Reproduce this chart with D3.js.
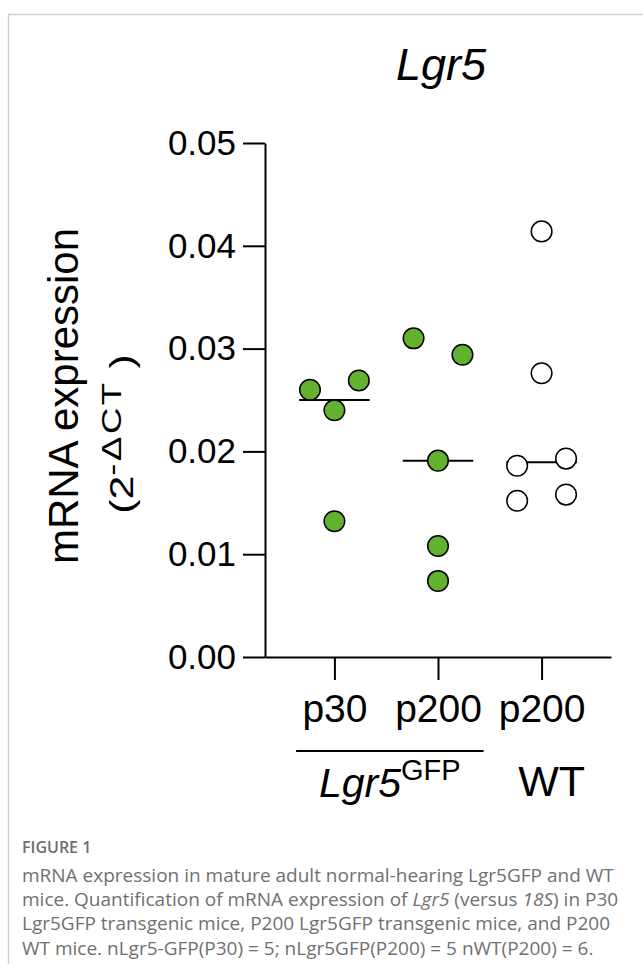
<!DOCTYPE html>
<html>
<head>
<meta charset="utf-8">
<script src="https://cdn.jsdelivr.net/npm/d3@7/dist/d3.min.js"></script>
<style>
  body { margin: 0; background: #fff; }
  svg { display: block; font-family: "Liberation Sans", Arial, sans-serif; }
</style>
</head>
<body>
<div id="chart"></div>
<script>
// group keys and the labels printed under the ticks
var groups = ["p30", "p200", "p200WT"];
var groupLabels = ["p30", "p200", "p200"];

// values (2^-dCT), one array per group
var p30Values = [0.0260, 0.0240, 0.0269, 0.0132];
var p200Values = [0.0310, 0.0294, 0.0191, 0.0108, 0.0074];
var wtValues = [0.0414, 0.0276, 0.0186, 0.0193, 0.0152, 0.0158];

// column slot of each dot (-1 left, 0 centre, 1 right) as the figure scatters them
var p30Slots = [-1, 0, 1, 0];
var p200Slots = [-1, 1, 0, 0, 0];
var wtSlots = [0, 0, -1, 1, -1, 1];

var yTicks = [0, 0.01, 0.02, 0.03, 0.04, 0.05];

var captionLines = [
    [{t: "mRNA expression in mature adult normal-hearing Lgr5GFP and WT"}],
    [{t: "mice. Quantification of mRNA expression of "}, {t: "Lgr5", i: true}, {t: " (versus "}, {t: "18S", i: true}, {t: ") in P30"}],
    [{t: "Lgr5GFP transgenic mice, P200 Lgr5GFP transgenic mice, and P200"}],
    [{t: "WT mice. nLgr5-GFP(P30) = 5; nLgr5GFP(P200) = 5 nWT(P200) = 6."}]
];

var width = 643, height = 974;
var margin = {top: 143, right: 32, bottom: 317, left: 265};

var svg = d3.select("#chart").append("svg")
    .attr("width", width)
    .attr("height", height);

svg.append("rect").attr("width", width).attr("height", height).attr("fill", "#fff");

// figure frame (thin grey top and left rule)
svg.append("path")
    .attr("d", "M8.5,964V14.5H643")
    .attr("fill", "none")
    .attr("stroke", "#cfcfcf")
    .attr("stroke-width", 1.5);

var x = d3.scalePoint()
    .domain(groups)
    .range([margin.left, width - margin.right])
    .padding(0.67);

var y = d3.scaleLinear()
    .domain([0, 0.05])
    .range([height - margin.bottom, margin.top]);

var slot = d3.scaleLinear()
    .domain([-1, 1])
    .range([-x.step() * 0.236, x.step() * 0.236]);

var series = [
    {key: "p30", values: p30Values, slots: p30Slots, fill: "#62b12f"},
    {key: "p200", values: p200Values, slots: p200Slots, fill: "#62b12f"},
    {key: "p200WT", values: wtValues, slots: wtSlots, fill: "#ffffff"}
];

// axes
var yAxis = svg.append("g")
    .attr("transform", "translate(" + margin.left + ",0)")
    .call(d3.axisLeft(y).tickValues(yTicks).tickFormat(d3.format(".2f")).tickSize(22).tickSizeOuter(0).tickPadding(7));

var xAxis = svg.append("g")
    .attr("transform", "translate(0," + y(0) + ")")
    .call(d3.axisBottom(x).tickSize(23).tickSizeOuter(0).tickFormat(function (d, i) { return groupLabels[i]; }).tickPadding(14));

svg.selectAll(".domain, .tick line").attr("stroke", "#000").attr("stroke-width", 2);
yAxis.selectAll("text").attr("font-size", 35).attr("fill", "#000").attr("font-family", "Liberation Sans, Arial, sans-serif");
xAxis.selectAll("text").attr("font-size", 39).attr("fill", "#000").attr("font-family", "Liberation Sans, Arial, sans-serif");

// median bars, drawn under the dots
svg.append("g").selectAll("line")
    .data(series)
    .join("line")
    .attr("x1", function (d) { return x(d.key) - x.step() * 0.34; })
    .attr("x2", function (d) { return x(d.key) + x.step() * 0.34; })
    .attr("y1", function (d) { return y(d3.median(d.values)); })
    .attr("y2", function (d) { return y(d3.median(d.values)); })
    .attr("stroke", "#000")
    .attr("stroke-width", 2);

// dots
series.forEach(function (s) {
    svg.append("g").selectAll("circle")
        .data(s.values)
        .join("circle")
        .attr("cx", function (d, i) { return x(s.key) + slot(s.slots[i]); })
        .attr("cy", function (d) { return y(d); })
        .attr("r", 10.3)
        .attr("fill", s.fill)
        .attr("stroke", "#000")
        .attr("stroke-width", 1.5);
});

// title
svg.append("text")
    .attr("x", 441)
    .attr("y", 80)
    .attr("text-anchor", "middle")
    .attr("font-size", 45)
    .attr("font-style", "italic")
    .text("Lgr5");

// y label
var midY = (margin.top + y(0)) / 2;
svg.append("text")
    .attr("transform", "translate(78," + (midY - 4) + ") rotate(-90)")
    .attr("text-anchor", "middle")
    .attr("font-size", 42)
    .text("mRNA expression");

// second line, the figure's lettering here is spread out along the text
var yl2 = svg.append("text")
    .attr("transform", "translate(133," + (midY + 34) + ") rotate(-90) scale(1.3,1)")
    .attr("text-anchor", "middle")
    .attr("font-size", 33);
yl2.append("tspan").text("(2");
yl2.append("tspan").attr("font-size", 28).attr("dy", -12).attr("letter-spacing", 2).text("-ΔCT");
yl2.append("tspan").attr("dy", 12).text(" )");

// group bracket under the two transgenic columns
var bx0 = x("p30") - x.step() * 0.37;
var bx1 = x("p200") + x.step() * 0.44;
svg.append("line")
    .attr("x1", bx0).attr("x2", bx1)
    .attr("y1", 751).attr("y2", 751)
    .attr("stroke", "#000")
    .attr("stroke-width", 2);

var gl = svg.append("text")
    .attr("x", (bx0 + bx1) / 2)
    .attr("y", 797)
    .attr("text-anchor", "middle")
    .attr("font-size", 41);
gl.append("tspan").attr("font-style", "italic").text("Lgr5");
gl.append("tspan").attr("font-size", 29).attr("dy", -17).text("GFP");

svg.append("text")
    .attr("x", x("p200WT") + 10)
    .attr("y", 796)
    .attr("text-anchor", "middle")
    .attr("font-size", 43)
    .text("WT");

// caption
svg.append("text")
    .attr("x", 22)
    .attr("y", 853)
    .attr("font-family", "'Open Sans', sans-serif")
    .attr("font-size", 16)
    .attr("font-weight", 600)
    .attr("fill", "#6d6d6d")
    .text("FIGURE 1");

var cap = svg.append("g")
    .attr("font-family", "'Open Sans', sans-serif")
    .attr("font-size", 19)
    .attr("fill", "#707070");

captionLines.forEach(function (line, li) {
    var t = cap.append("text")
        .attr("x", 22)
        .attr("y", 882 + li * 24.2);
    line.forEach(function (part) {
        t.append("tspan")
            .attr("font-style", part.i ? "italic" : null)
            .text(part.t);
    });
});
</script>
</body>
</html>
